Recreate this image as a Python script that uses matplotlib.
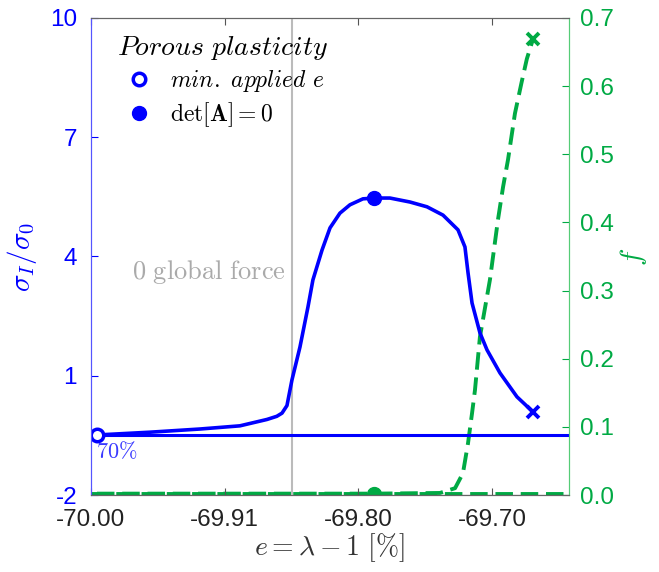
import numpy as np
import matplotlib
matplotlib.use("Agg")
import matplotlib.pyplot as plt
from matplotlib.lines import Line2D

plt.rcParams['font.family'] = ['Liberation Sans', 'DejaVu Sans']
plt.rcParams['mathtext.fontset'] = 'cm'
plt.rcParams['axes.unicode_minus'] = False

blue = '#0000FF'
green = '#00AA44'

# stress curve sigma_I / sigma_0 (left axis)
e_sig = [-69.9955, -69.9559, -69.9185, -69.8886, -69.8684, -69.8610, -69.8571,
         -69.8534, -69.8497, -69.8437, -69.8377, -69.8340, -69.8272, -69.8212,
         -69.8138, -69.8063, -69.7966, -69.7883, -69.7764, -69.7614, -69.7487,
         -69.7367, -69.7255, -69.7203, -69.7180, -69.7150, -69.7091, -69.7038,
         -69.6941, -69.6814, -69.6694]
sig = [-0.49, -0.42, -0.34, -0.26, -0.10, -0.02, 0.06, 0.25, 0.89, 1.72, 2.73,
       3.41, 4.16, 4.72, 5.09, 5.30, 5.45, 5.47, 5.47, 5.37, 5.25, 5.04, 4.67,
       4.24, 3.59, 2.83, 2.08, 1.65, 1.07, 0.47, 0.09]
sig_ref = -0.49  # horizontal reference line
i_det = 17  # index of det[A]=0 point in e_sig

# porosity f (right axis)
e_f = [-69.9955, -69.7883, -69.7390, -69.7277, -69.7218, -69.7180, -69.7150,
       -69.7128, -69.7091, -69.7016, -69.6956, -69.6918, -69.6881, -69.6829,
       -69.6780, -69.6740, -69.6694]
f = [0.002, 0.002, 0.003, 0.010, 0.032, 0.076, 0.120, 0.154, 0.232, 0.316,
     0.404, 0.452, 0.492, 0.560, 0.605, 0.640, 0.669]
f_ref = 0.002

e_zero_force = -69.850

xticks = [-70.00, -69.90, -69.80, -69.70]
xticklabels = ['-70.00', '-69.91', '-69.80', '-69.70']

fig = plt.figure(figsize=(6.59, 5.72), dpi=100)
ax = fig.add_axes([0.138, 0.1346, 0.7254, 0.834])
ax2 = ax.twinx()

ax.set_xlim(-70.0, -69.6425)
ax.set_ylim(-2, 10)
ax2.set_ylim(0, 0.7)

ax.axvline(e_zero_force, color='#BBBBBB', lw=1.5, zorder=1)
ax.text(e_zero_force - 0.004, 3.6, r'$\mathrm{0\ global\ force}$', color='#AAAAAA',
        fontsize=19, ha='right', va='center')

ax2.axhline(f_ref, color=green, lw=2.8, dashes=(4.5, 2), zorder=2)
ax2.plot(e_f, f, color=green, lw=2.8, dashes=(4.5, 2), zorder=2)
ax2.plot(e_f[-1], f[-1], 'x', color=green, ms=9, mew=2.8)
ax2.plot(e_f[1], f[1], 'o', color=green, ms=10)

ax2.axhline(0.0, color='#555555', lw=0.8)
ax.set_zorder(ax2.get_zorder() + 1)
ax.patch.set_visible(False)

ax.plot([e_sig[0], -69.6425], [sig_ref, sig_ref], color=blue, lw=2.2)
ax.plot(e_sig, sig, color=blue, lw=2.6)
ax.plot(e_sig[0], sig[0], 'o', mfc='white', mec=blue, mew=2.5, ms=9)
ax.plot(e_sig[i_det], sig[i_det], 'o', color=blue, ms=10)
ax.plot(e_sig[-1], sig[-1], 'x', color=blue, ms=9, mew=2.8)
ax.text(-69.9962, -0.92, r'$70\%$', color='#3A3AFF', fontsize=16, ha='left', va='center')

ax.set_xticks(xticks)
ax.set_xticklabels(xticklabels)
ax.set_yticks([-2, 1, 4, 7, 10])
ax2.set_yticks(np.arange(0, 0.71, 0.1))
ax2.set_yticklabels([f'{v:.1f}' for v in np.arange(0, 0.71, 0.1)])

ax.tick_params(axis='x', direction='in', top=True, colors='#555555', labelcolor='#222222',
               labelsize=17.5, length=5, pad=10)
ax.tick_params(axis='y', direction='in', colors=blue, labelcolor=blue, labelsize=17.5,
               length=5, pad=10)
ax2.tick_params(axis='y', direction='in', colors=green, labelcolor=green, labelsize=17.5,
                length=5, pad=8)

for a in (ax, ax2):
    a.spines['left'].set_color('#5555FF')
    a.spines['right'].set_color('#55CC77')
    a.spines['top'].set_color('#666666')
    a.spines['bottom'].set_color('#666666')

ax.set_ylabel(r'$\sigma_I/\sigma_0$', color=blue, fontsize=21, labelpad=8)
ax2.set_ylabel(r'$f$', color=green, fontsize=21, labelpad=3)
ax.set_xlabel(r'$e = \lambda - 1\ [\%]$', color='#333333', fontsize=20, labelpad=0)

handles = [
    Line2D([], [], ls='none', marker='o', mfc='white', mec=blue, mew=2.5, ms=9,
           label=r'$\mathit{min.\ applied\ e}$'),
    Line2D([], [], ls='none', marker='o', color=blue, ms=10,
           label=r'$\det[\mathbf{A}] = \mathbf{0}$'),
]
leg = ax.legend(handles=handles, loc='upper left', frameon=False, fontsize=17,
                title=r'$\mathit{Porous\ plasticity}$', title_fontsize=20,
                bbox_to_anchor=(0.01, 1.01), handletextpad=0.5, labelspacing=0.25,
                handlelength=1.6)

fig.savefig('out.png', dpi=100)
